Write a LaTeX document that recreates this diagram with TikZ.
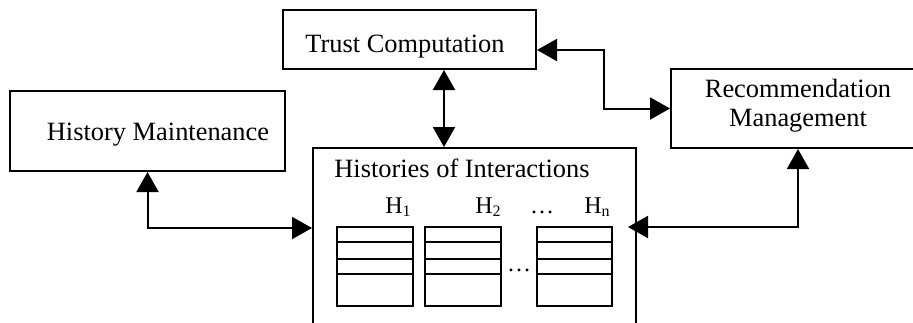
\documentclass[tikz,border=0pt]{standalone}
\usepackage{fontspec}
\setmainfont{Liberation Serif}
\usetikzlibrary{arrows.meta}
\begin{document}
\begin{tikzpicture}[x=0.5pt,y=-0.5pt,
  box/.style={draw,line width=1pt,inner sep=0pt},
  txt/.style={inner sep=0pt,font=\fontsize{13.2}{15.8}\selectfont},
  sub/.style={inner sep=0pt,font=\fontsize{12}{14}\selectfont},
  biarrow/.style={line width=1pt,{Triangle[length=10pt,width=11pt]}-{Triangle[length=10pt,width=11pt]}},
  tbl/.style={line width=0.7pt}]
\useasboundingbox (0,0) rectangle (913,322);
\clip (0,0) rectangle (913,322);
% boxes
\node[box,minimum width=126.5pt,minimum height=29.5pt] (tc) at (409.5,39.5) {};
\node[box,minimum width=137.5pt,minimum height=40pt] (hm) at (147.5,131) {};
\node[box,minimum width=161.5pt,minimum height=98.5pt] (hi) at (474.5,246.5) {};
\node[box,minimum width=127pt,minimum height=39.5pt] (rm) at (798,108.5) {};
% texts
\node[txt,anchor=base] (tct) at (405,52) {Trust Computation};
\node[txt,anchor=base] (hmt) at (158,140) {History Maintenance};
\node[txt,anchor=base west] (hit) at (334,177) {Histories of Interactions};
\node[txt,anchor=base] (rmt1) at (798,97) {Recommendation};
\node[txt,anchor=base] (rmt2) at (798,126) {Management};
% tables
\foreach \l/\r/\n in {337/413/t1,425/501/t2,537/612/t3}{
  \draw[tbl] (\l,227) rectangle (\r,306);
  \draw[tbl] (\l,242) -- (\r,242) (\l,259) -- (\r,259) (\l,274) -- (\r,274);
}
\node[sub,anchor=base east] (h1) at (412,213) {H\textsubscript{1}};
\node[sub,anchor=base east] (h2) at (502,213) {H\textsubscript{2}};
\node[sub,anchor=base] (hd) at (542,213) {…};
\node[sub,anchor=base east] (hn) at (611,213) {H\textsubscript{n}};
\node[sub,anchor=base] (md) at (519,271) {…};
% connectors
\coordinate (c1) at (444,0);
\draw[biarrow] (tc.south -| c1) -- (hi.north -| c1);
\coordinate (c2) at (0,50);
\coordinate (c3) at (604,0);
\draw[biarrow] (tc.east |- c2) -| (c3 |- rm.west) -- (rm.west);
\coordinate (c4) at (0,228);
\draw[biarrow] (hm.south) |- (hi.west |- c4);
\coordinate (c5) at (628,227);
\draw[biarrow] (rm.south) |- (c5);
\end{tikzpicture}
\end{document}
